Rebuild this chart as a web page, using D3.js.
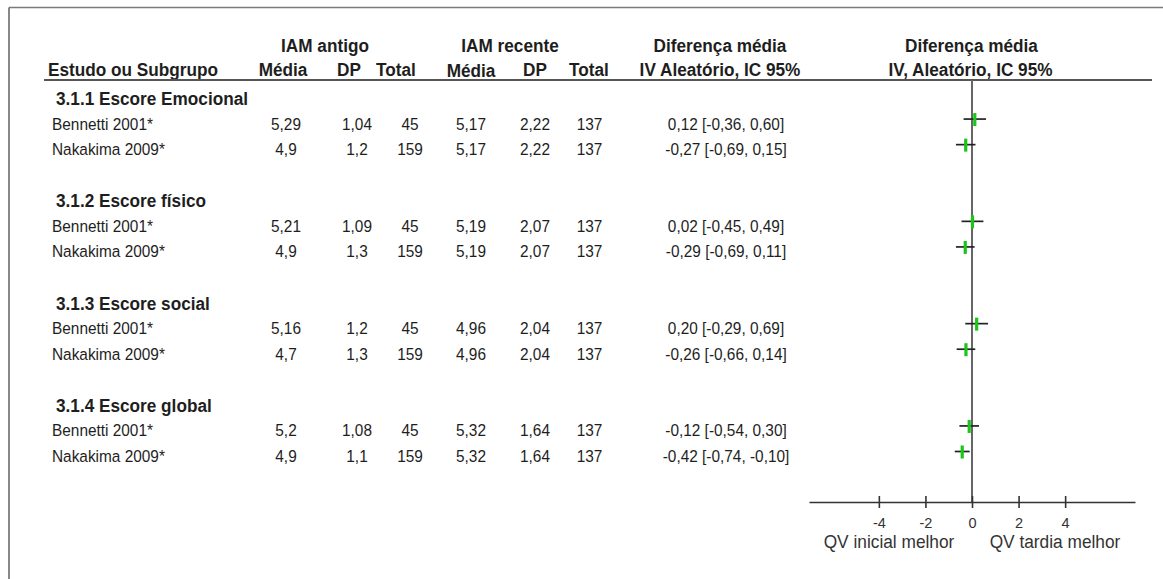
<!DOCTYPE html>
<html>
<head>
<meta charset="utf-8">
<script src="https://cdn.jsdelivr.net/npm/d3@7"></script>
<style>
  html, body { margin: 0; padding: 0; background: #fff; }
  svg { display: block; font-family: "Liberation Sans", Arial, sans-serif; }
</style>
</head>
<body>
<svg id="chart" width="1163" height="579"></svg>
<script>
// Subgroups and studies
const sections = ["3.1.1 Escore Emocional", "3.1.2 Escore físico", "3.1.3 Escore social", "3.1.4 Escore global"];
const studies = ["Bennetti 2001*", "Nakakima 2009*"];

// IAM antigo (one value per study row, grouped by subgroup)
const oldMean = [5.29, 4.9, 5.21, 4.9, 5.16, 4.7, 5.2, 4.9];
const oldSD   = [1.04, 1.2, 1.09, 1.3, 1.2, 1.3, 1.08, 1.1];
const oldN    = [45, 159, 45, 159, 45, 159, 45, 159];

// IAM recente
const newMean = [5.17, 5.17, 5.19, 5.19, 4.96, 4.96, 5.32, 5.32];
const newSD   = [2.22, 2.22, 2.07, 2.07, 2.04, 2.04, 1.64, 1.64];
const newN    = [137, 137, 137, 137, 137, 137, 137, 137];

// Mean difference, IV random effects, 95% CI
const md   = [0.12, -0.27, 0.02, -0.29, 0.20, -0.26, -0.12, -0.42];
const ciLo = [-0.36, -0.69, -0.45, -0.69, -0.29, -0.66, -0.54, -0.74];
const ciHi = [0.60, 0.15, 0.49, 0.11, 0.69, 0.14, 0.30, -0.10];

// Axis ticks and direction labels
const ticks = [-4, -2, 0, 2, 4];
const favourLeft = "QV inicial melhor";
const favourRight = "QV tardia melhor";

const pt = d3.formatLocale({ decimal: ",", thousands: ".", grouping: [3], currency: ["", ""], minus: "-" });
const f2 = pt.format(".2f");
const plain = v => String(v).replace(".", ",");

const svg = d3.select("#chart");
const ink = "#1e1e1e";
const stretch = 1.08; // slightly tall lettering

// Places a text at (x, y) with the tall lettering
const at = (xv, yv) => `translate(${xv},${yv}) scale(1,${stretch})`;

// Outer frame (top and left edges)
svg.append("line").attr("x1", 9).attr("x2", 1163).attr("y1", 7.5).attr("y2", 7.5)
  .attr("stroke", "#7a7a7a").attr("stroke-width", 1.6);
svg.append("line").attr("x1", 9).attr("x2", 9).attr("y1", 7.5).attr("y2", 579)
  .attr("stroke", "#6a6a6a").attr("stroke-width", 1.6);

// Row layout: each subgroup takes a title line, two study lines and a gap
const rows = [];
sections.forEach((s, si) => {
  rows.push({ type: "title", text: s, idx: si * 4 });
  studies.forEach((st, k) => rows.push({ type: "study", text: st, idx: si * 4 + k + 1, i: si * 2 + k }));
});
const y = d3.scaleLinear().domain([0, 14]).range([93.5, 451.5]);
const x = d3.scaleLinear().domain([-7, 7]).range([809, 1135]);

// Header
const head = svg.append("g").attr("fill", ink).attr("font-weight", "bold").attr("font-size", 17.2);
const head1 = [["IAM antigo", 325], ["IAM recente", 510], ["Diferença média", 720], ["Diferença média", 971.5]];
head1.forEach(([t, cx]) => head.append("text").attr("transform", at(cx, 52)).attr("text-anchor", "middle").text(t));
head.append("text").attr("transform", at(48, 76)).text("Estudo ou Subgrupo");
const head2 = [["Média", 283, 76], ["DP", 349, 76], ["Total", 396, 76], ["Média", 471, 77], ["DP", 535, 76],
               ["Total", 589, 76], ["IV Aleatório, IC 95%", 720, 75.5], ["IV, Aleatório, IC 95%", 970.5, 75.5]];
head2.forEach(([t, cx, by]) => head.append("text").attr("transform", at(cx, by)).attr("text-anchor", "middle").text(t));
svg.append("line").attr("x1", 44).attr("x2", 1152).attr("y1", 80).attr("y2", 80)
  .attr("stroke", "#555").attr("stroke-width", 2);

// Subgroup titles
svg.append("g").selectAll("text").data(rows.filter(r => r.type === "title")).join("text")
  .attr("transform", r => at(56, y(r.idx) + 11.5))
  .attr("font-weight", "bold").attr("font-size", 17.2).attr("fill", ink)
  .text(r => r.text);

// Study rows: table columns
const studyRows = rows.filter(r => r.type === "study");
const cols = [
  { x: 52, anchor: "start", val: r => r.text },
  { x: 286, anchor: "middle", val: r => plain(oldMean[r.i]) },
  { x: 357, anchor: "middle", val: r => plain(oldSD[r.i]) },
  { x: 410, anchor: "middle", val: r => oldN[r.i] },
  { x: 471, anchor: "middle", val: r => plain(newMean[r.i]) },
  { x: 535, anchor: "middle", val: r => plain(newSD[r.i]) },
  { x: 589.5, anchor: "middle", val: r => newN[r.i] },
  { x: 726, anchor: "middle", val: r => `${f2(md[r.i])} [${f2(ciLo[r.i])}, ${f2(ciHi[r.i])}]` }
];
const tbl = svg.append("g").attr("font-size", 15.4).attr("fill", ink);
cols.forEach(c => {
  tbl.append("g").selectAll("text").data(studyRows).join("text")
    .attr("transform", r => at(c.x, y(r.idx) + 10.5))
    .attr("text-anchor", c.anchor)
    .text(c.val);
});

// Forest plot: line of no effect
const axisY = 502;
svg.append("line").attr("x1", x(0)).attr("x2", x(0)).attr("y1", 80).attr("y2", axisY)
  .attr("stroke", "#666").attr("stroke-width", 2);

// Confidence intervals and point estimates
const plot = svg.append("g");
plot.selectAll("line.ci").data(studyRows).join("line").attr("class", "ci")
  .attr("x1", r => x(ciLo[r.i])).attr("x2", r => x(ciHi[r.i]))
  .attr("y1", r => y(r.idx)).attr("y2", r => y(r.idx))
  .attr("stroke", "#222").attr("stroke-width", 1.7);
plot.selectAll("rect.est").data(studyRows).join("rect").attr("class", "est")
  .attr("x", r => x(md[r.i]) - 1.6).attr("width", 3.2)
  .attr("y", r => y(r.idx) - 6).attr("height", 13)
  .attr("fill", "#19c619");

// Horizontal axis
const ax = svg.append("g").attr("transform", `translate(0,${axisY})`)
  .call(d3.axisBottom(x).tickValues(ticks).tickSize(0).tickFormat(pt.format("d")));
ax.select(".domain").attr("stroke", "#333").attr("stroke-width", 1.6);
ax.selectAll(".tick line").attr("y1", -6).attr("y2", 6).attr("stroke", "#333").attr("stroke-width", 1.6);
ax.selectAll(".tick text").attr("y", 26).attr("dy", null)
  .attr("font-family", "Liberation Sans, Arial, sans-serif").attr("font-size", 14.5).attr("fill", "#333");

svg.append("text").attr("transform", at(889, 548)).attr("text-anchor", "middle")
  .attr("font-size", 17.3).attr("fill", "#333").text(favourLeft);
svg.append("text").attr("transform", at(1055, 548)).attr("text-anchor", "middle")
  .attr("font-size", 17.3).attr("fill", "#333").text(favourRight);
</script>
</body>
</html>
